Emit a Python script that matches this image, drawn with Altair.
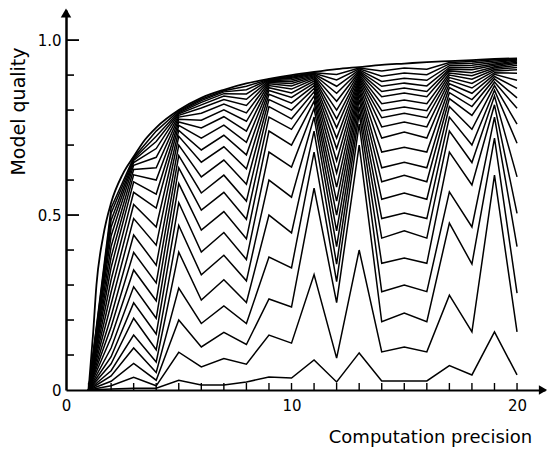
import altair as alt
import pandas as pd

# ---------------- data ----------------
X = list(range(1, 21))

# value of each of the 22 curves (bottom -> top) at each integer precision x
COL_01 = [0.0, 0.0, 0.0, 0.0, 0.0, 0.0, 0.0, 0.0, 0.0, 0.0, 0.0,
          0.0, 0.0, 0.0, 0.0, 0.0, 0.0, 0.0, 0.0, 0.0, 0.0, 0.0]
COL_02 = [0.003, 0.012, 0.025, 0.04, 0.055, 0.075, 0.095, 0.12, 0.15, 0.18, 0.21,
          0.245, 0.28, 0.315, 0.35, 0.38, 0.41, 0.44, 0.465, 0.485, 0.505, 0.52]
COL_03 = [0.005, 0.036, 0.076, 0.12, 0.157, 0.205, 0.249, 0.295, 0.343, 0.393, 0.443,
          0.49, 0.53, 0.565, 0.595, 0.615, 0.63, 0.642, 0.65, 0.656, 0.66, 0.664]
COL_04 = [0.005, 0.012, 0.028, 0.05, 0.08, 0.115, 0.16, 0.205, 0.255, 0.306, 0.357,
          0.414, 0.466, 0.52, 0.56, 0.6, 0.635, 0.665, 0.69, 0.71, 0.725, 0.74]
COL_05 = [0.028, 0.108, 0.20, 0.291, 0.394, 0.47, 0.535, 0.59, 0.635, 0.67, 0.70,
          0.725, 0.742, 0.756, 0.766, 0.774, 0.78, 0.785, 0.789, 0.792, 0.795, 0.798]
COL_06 = [0.014, 0.066, 0.123, 0.19, 0.257, 0.329, 0.394, 0.457, 0.514, 0.563, 0.609,
          0.651, 0.686, 0.72, 0.749, 0.771, 0.791, 0.806, 0.815, 0.822, 0.827, 0.831]
COL_07 = [0.014, 0.09, 0.165, 0.24, 0.315, 0.385, 0.45, 0.51, 0.565, 0.614, 0.657,
          0.695, 0.728, 0.757, 0.781, 0.801, 0.817, 0.83, 0.84, 0.847, 0.852, 0.855]
COL_08 = [0.023, 0.074, 0.13, 0.19, 0.25, 0.312, 0.373, 0.432, 0.488, 0.54, 0.588,
          0.632, 0.672, 0.708, 0.74, 0.768, 0.792, 0.813, 0.831, 0.846, 0.858, 0.868]
COL_09 = [0.037, 0.157, 0.26, 0.38, 0.50, 0.60, 0.68, 0.74, 0.78, 0.81, 0.83,
          0.845, 0.856, 0.864, 0.87, 0.875, 0.879, 0.882, 0.884, 0.886, 0.887, 0.888]
COL_10 = [0.034, 0.134, 0.237, 0.349, 0.449, 0.551, 0.637, 0.70, 0.745, 0.775, 0.80,
          0.82, 0.836, 0.849, 0.86, 0.869, 0.876, 0.882, 0.887, 0.891, 0.894, 0.897]
COL_11 = [0.086, 0.33, 0.577, 0.68, 0.74, 0.78, 0.805, 0.825, 0.84, 0.852, 0.862,
          0.87, 0.877, 0.883, 0.888, 0.892, 0.895, 0.898, 0.901, 0.903, 0.905, 0.907]
COL_12 = [0.023, 0.091, 0.25, 0.31, 0.36, 0.41, 0.455, 0.50, 0.54, 0.58, 0.62,
          0.655, 0.69, 0.72, 0.75, 0.775, 0.80, 0.825, 0.848, 0.868, 0.886, 0.902]
COL_13 = [0.106, 0.40, 0.70, 0.76, 0.79, 0.81, 0.83, 0.845, 0.857, 0.867, 0.875,
          0.882, 0.888, 0.893, 0.898, 0.902, 0.906, 0.909, 0.912, 0.915, 0.918, 0.92]
COL_14 = [0.026, 0.109, 0.195, 0.281, 0.362, 0.434, 0.49, 0.545, 0.595, 0.635, 0.68,
          0.72, 0.752, 0.778, 0.798, 0.818, 0.838, 0.853, 0.868, 0.882, 0.897, 0.912]
COL_15 = [0.026, 0.123, 0.22, 0.30, 0.377, 0.455, 0.506, 0.563, 0.614, 0.651, 0.694,
          0.737, 0.766, 0.791, 0.809, 0.829, 0.849, 0.863, 0.877, 0.891, 0.906, 0.92]
COL_16 = [0.026, 0.109, 0.195, 0.281, 0.362, 0.434, 0.49, 0.545, 0.595, 0.635, 0.68,
          0.72, 0.752, 0.778, 0.798, 0.818, 0.838, 0.853, 0.869, 0.885, 0.901, 0.917]
COL_17 = [0.07, 0.271, 0.477, 0.566, 0.68, 0.74, 0.78, 0.81, 0.833, 0.85, 0.864,
          0.875, 0.885, 0.893, 0.9, 0.906, 0.912, 0.917, 0.922, 0.927, 0.932, 0.936]
COL_18 = [0.043, 0.166, 0.36, 0.466, 0.586, 0.65, 0.70, 0.745, 0.785, 0.81, 0.83,
          0.848, 0.863, 0.876, 0.888, 0.898, 0.907, 0.915, 0.922, 0.928, 0.934, 0.939]
COL_19 = [0.166, 0.614, 0.72, 0.78, 0.815, 0.84, 0.857, 0.87, 0.88, 0.889, 0.896,
          0.902, 0.907, 0.912, 0.916, 0.92, 0.924, 0.928, 0.932, 0.936, 0.94, 0.944]
COL_20 = [0.043, 0.166, 0.277, 0.41, 0.505, 0.609, 0.705, 0.76, 0.805, 0.835, 0.862,
          0.885, 0.905, 0.915, 0.922, 0.928, 0.933, 0.937, 0.94, 0.943, 0.945, 0.947]

COLUMNS = [COL_01, COL_02, COL_03, COL_04, COL_05, COL_06, COL_07, COL_08, COL_09, COL_10,
           COL_11, COL_12, COL_13, COL_14, COL_15, COL_16, COL_17, COL_18, COL_19, COL_20]

# smooth upper envelope
ENV_X = [1.0, 1.1, 1.2, 1.35, 1.65, 2.0, 2.5, 3.0, 3.5, 4.0, 5.0, 6.0, 7.0, 8.0, 9.0,
         10.0, 11.0, 12.0, 13.0, 14.0, 15.0, 16.0, 17.0, 18.0, 19.0, 20.0]
ENV_Y = [0.0, 0.08, 0.16, 0.30, 0.44, 0.535, 0.615, 0.667, 0.715, 0.75, 0.80, 0.835, 0.858,
         0.876, 0.889, 0.90, 0.909, 0.917, 0.923, 0.929, 0.933, 0.937, 0.940, 0.943, 0.946, 0.948]

Y_TICKS_MINOR = [0.1, 0.2, 0.3, 0.4, 0.6, 0.7, 0.8, 0.9]
Y_TICKS_MAJOR = [0.5, 1.0]
X_TICKS = list(range(1, 21))
X_LABELS = [0, 10, 20]
Y_LABELS = [0, 0.5, 1.0]

# ---------------- tables ----------------
rows = []
for xi, col in zip(X, COLUMNS):
    for k, v in enumerate(col, start=1):
        rows.append({"x": xi, "y": v, "k": k})
df = pd.DataFrame(rows)
env = pd.DataFrame({"x": ENV_X, "y": ENV_Y})

W, H = 479, 380
FONT = "DejaVu Sans"
xs = alt.Scale(domain=[0, 21.24], nice=False, zero=False)
ys = alt.Scale(domain=[0, 1.086], nice=False)

x_axis = alt.Axis(
    values=X_LABELS, format="d", ticks=False, tickSize=0, grid=False,
    domainColor="black", domainWidth=2, labelColor="black", labelFont=FONT,
    labelFontSize=15, labelPadding=8, labelFlush=False,
    title="Computation precision", titleFont=FONT, titleFontSize=18,
    titleFontWeight="normal", titleColor="black", titleX=364, titleY=52,
    titleAlign="center", titleBaseline="alphabetic")
y_axis = alt.Axis(
    values=Y_LABELS, labelExpr="datum.value == 0 ? '0' : format(datum.value, '.1f')",
    ticks=False, tickSize=0, grid=False, domainColor="black", domainWidth=2.5,
    labelColor="black", labelFont=FONT, labelFontSize=15, labelPadding=5,
    labelFlush=False,
    title="Model quality", titleFont=FONT, titleFontSize=19, titleFontWeight="normal",
    titleColor="black", titleX=-42, titleY=101, titleAngle=-90,
    titleAlign="center", titleBaseline="alphabetic")

lines = alt.Chart(df).mark_line(color="black", strokeWidth=1.5).encode(
    x=alt.X("x:Q", scale=xs, axis=x_axis),
    y=alt.Y("y:Q", scale=ys, axis=y_axis),
    detail="k:N",
    order="x:Q",
)

envelope = alt.Chart(env).mark_line(color="black", strokeWidth=1.8, interpolate="monotone").encode(
    x=alt.X("x:Q", scale=xs, axis=x_axis),
    y=alt.Y("y:Q", scale=ys, axis=y_axis),
)

ytm = alt.Chart(pd.DataFrame({"y": Y_TICKS_MINOR})).mark_rule(color="black", strokeWidth=1.6).encode(
    y=alt.Y("y:Q", scale=ys, axis=y_axis), x=alt.value(0), x2=alt.value(8))
ytM = alt.Chart(pd.DataFrame({"y": Y_TICKS_MAJOR})).mark_rule(color="black", strokeWidth=1.8).encode(
    y=alt.Y("y:Q", scale=ys, axis=y_axis), x=alt.value(0), x2=alt.value(13))
xt = alt.Chart(pd.DataFrame({"x": X_TICKS})).mark_rule(color="black", strokeWidth=1.4).encode(
    x=alt.X("x:Q", scale=xs, axis=x_axis), y=alt.value(H), y2=alt.value(H - 7))

one = pd.DataFrame({"a": [0]})
yarrow = alt.Chart(one).mark_point(shape="triangle-up", filled=True, color="black",
                                   size=110, opacity=1).encode(x=alt.value(0), y=alt.value(3))
xarrow = alt.Chart(one).mark_point(shape="triangle-right", filled=True, color="black",
                                   size=90, opacity=1).encode(x=alt.value(W - 2), y=alt.value(H))

chart = alt.layer(lines, envelope, ytm, ytM, xt, yarrow, xarrow).properties(
    width=W, height=H,
    padding={"left": 66, "top": 10, "right": 5, "bottom": 61},
    autosize=alt.AutoSizeParams(type="none"),
    background="white",
).configure_view(stroke=None)

chart.save("out.html", embed_options={"renderer": "svg", "actions": False})
